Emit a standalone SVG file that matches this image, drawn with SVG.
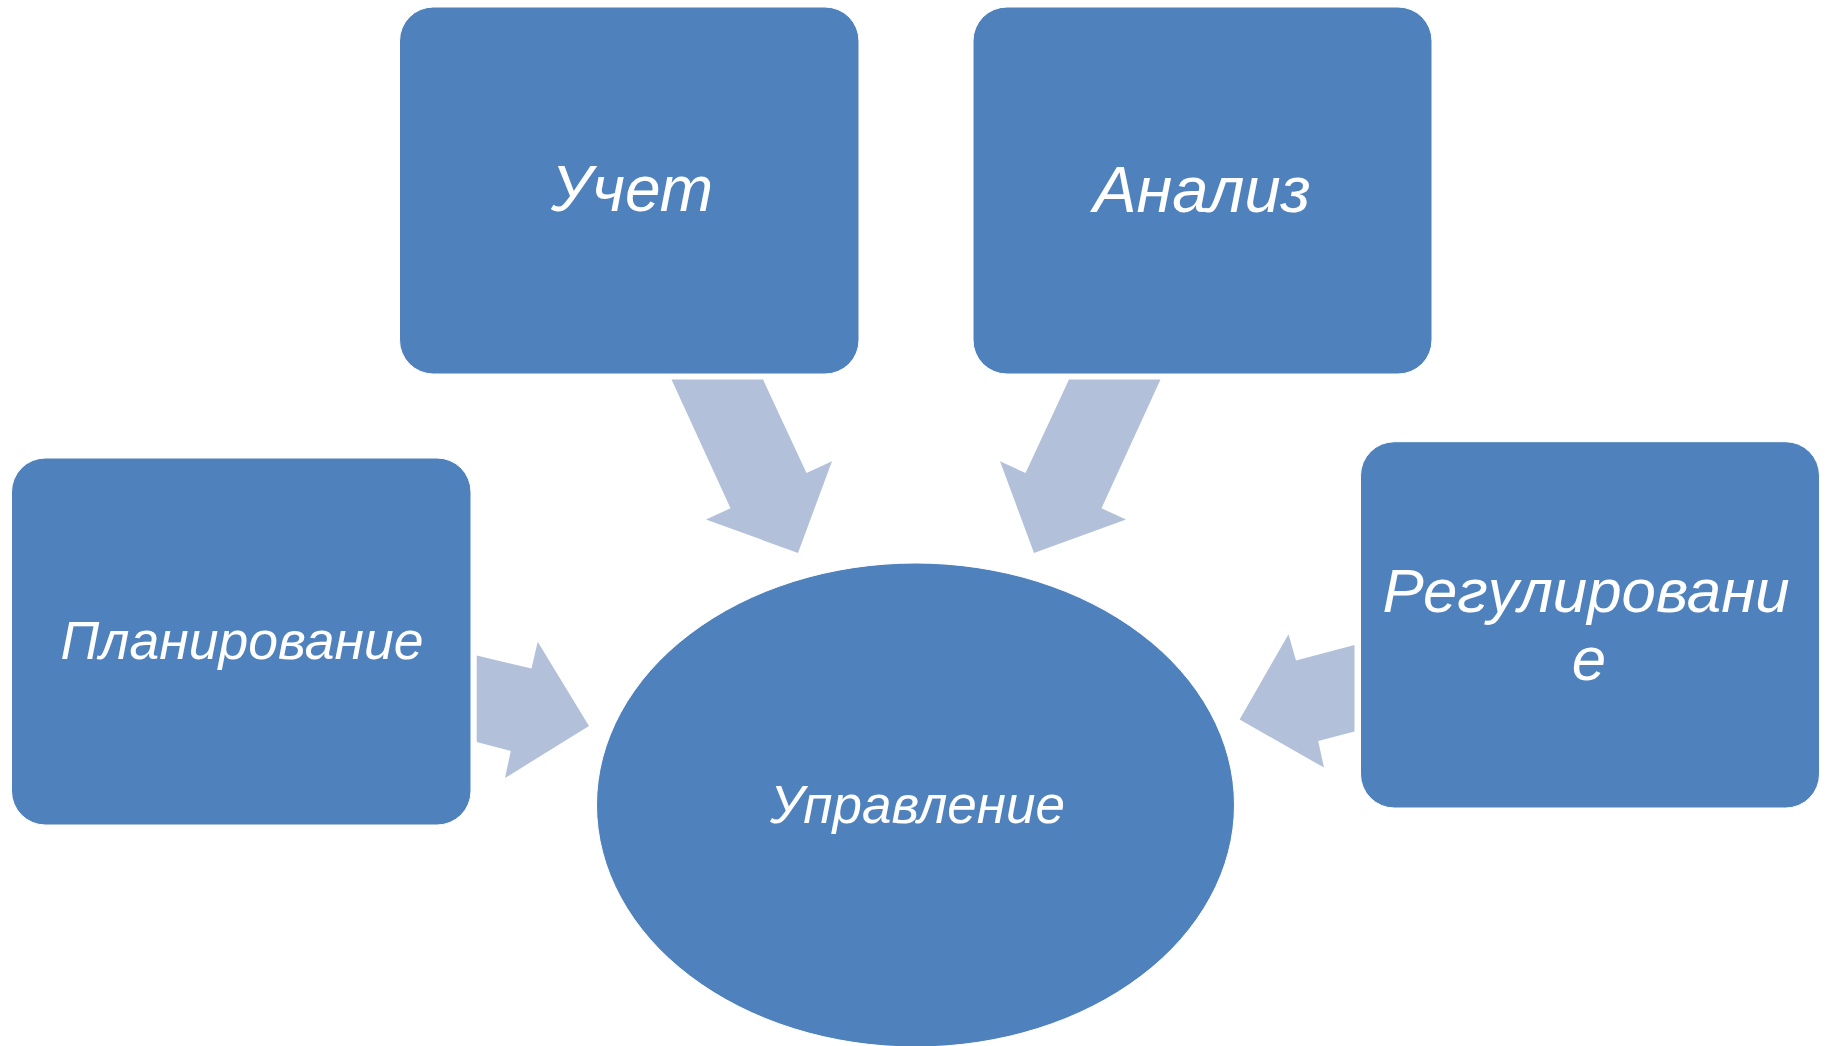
<svg xmlns="http://www.w3.org/2000/svg" width="1832" height="1046" viewBox="0 0 1832 1046">
<style>
.node{fill:#4F81BD;stroke:#FFFFFF;stroke-width:1}
.arrow{fill:#B2C1D9;stroke:none}
.lbl{font-family:"Liberation Sans",Arial,sans-serif;font-style:italic;fill:#FFFFFF;text-anchor:middle}
</style>
<rect width="1832" height="1046" fill="#FFFFFF"/>
<g id="connectors">
<polygon class="arrow" points="671.5,379.5 763,379.5 806.5,473 832,461.3 798,553 706,519.5 730.5,508.3"/>
<polygon class="arrow" points="1160.5,379.5 1069,379.5 1025.5,473 1000,461.3 1034,553 1126,519.5 1101.5,508.3"/>
<polygon class="arrow" points="476.7,655.5 531.5,668.5 537.7,641.8 589,726 505,778 510.8,751 476.7,742"/>
<polygon class="arrow" points="1354.5,645 1296,660.5 1288.5,634.2 1239.6,719.5 1324,767.6 1318.2,741 1354.5,731.6"/>
</g>
<g id="node-uchet">
<rect class="node" x="399.5" y="7" width="459.5" height="367" rx="34"/>
<text class="lbl" x="632" y="211" font-size="64">Учет</text>
</g>
<g id="node-analiz">
<rect class="node" x="973" y="7" width="459" height="367" rx="34"/>
<text class="lbl" x="1202" y="212" font-size="65">Анализ</text>
</g>
<g id="node-planirovanie">
<rect class="node" x="11.5" y="458" width="459.5" height="367" rx="34"/>
<text class="lbl" x="242" y="659" font-size="53.5">Планирование</text>
</g>
<g id="node-regulirovanie">
<rect class="node" x="1360.5" y="441.7" width="459" height="366.3" rx="34"/>
<text class="lbl" x="1586" y="611.7" font-size="61.8">Регулировани</text>
<text class="lbl" x="1589" y="680" font-size="61.8">е</text>
</g>
<g id="node-upravlenie">
<ellipse class="node" cx="915.5" cy="805" rx="319" ry="242"/>
<text class="lbl" x="917.5" y="823" font-size="53">Управление</text>
</g>
</svg>
